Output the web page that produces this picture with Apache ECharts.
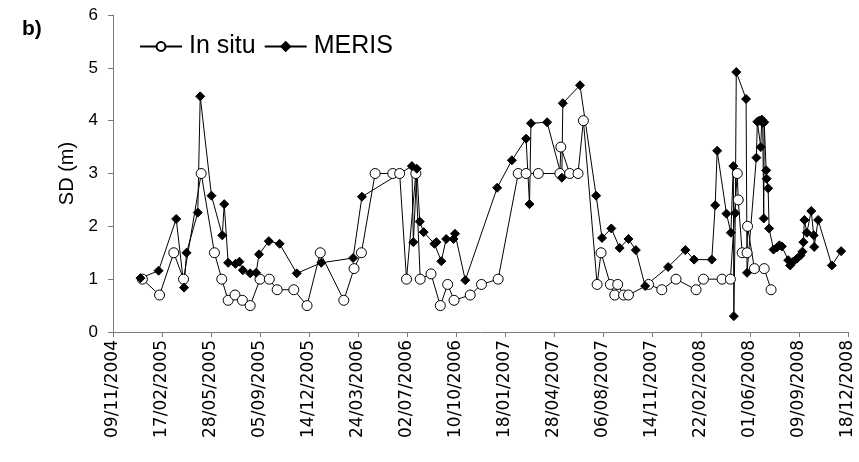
<!DOCTYPE html>
<html>
<head>
<meta charset="utf-8">
<script src="https://cdn.jsdelivr.net/npm/echarts@6/dist/echarts.min.js"></script>
<style>
  html, body { margin: 0; padding: 0; background: #fff; }
  #chart { width: 859px; height: 462px; }
</style>
</head>
<body>
<div id="chart"></div>
<script>
// In situ SD samples
var inSituDates = [
  '2005-01-08', '2005-02-12', '2005-03-13', '2005-04-02', '2005-05-08', '2005-06-04', '2005-06-19',
  '2005-07-02', '2005-07-16', '2005-07-31', '2005-08-16', '2005-09-05', '2005-09-24', '2005-10-10',
  '2005-11-13', '2005-12-10', '2006-01-06', '2006-02-23', '2006-03-16', '2006-03-31', '2006-04-28',
  '2006-06-03', '2006-06-17', '2006-07-01', '2006-07-20', '2006-07-29', '2006-08-20', '2006-09-08',
  '2006-09-23', '2006-10-06', '2006-11-08', '2006-12-01', '2007-01-04', '2007-02-14', '2007-03-02',
  '2007-03-27', '2007-05-10', '2007-05-12', '2007-05-30', '2007-06-16', '2007-06-27', '2007-07-25',
  '2007-08-02', '2007-08-21', '2007-08-30', '2007-09-05', '2007-09-17', '2007-09-27', '2007-11-07',
  '2007-12-04', '2008-01-02', '2008-02-12', '2008-02-27', '2008-04-05', '2008-04-22', '2008-05-06',
  '2008-05-08', '2008-05-16', '2008-05-26', '2008-05-27', '2008-06-10', '2008-06-30', '2008-07-14'
];
var inSituSD = [
  1.0, 0.7, 1.5, 1.0, 3.0, 1.5, 1.0,
  0.6, 0.7, 0.6, 0.5, 1.0, 1.0, 0.8,
  0.8, 0.5, 1.5, 0.6, 1.2, 1.5, 3.0,
  3.0, 3.0, 1.0, 3.0, 1.0, 1.1, 0.5,
  0.9, 0.6, 0.7, 0.9, 1.0, 3.0, 3.0,
  3.0, 3.0, 3.5, 3.0, 3.0, 4.0, 0.9,
  1.5, 0.9, 0.7, 0.9, 0.7, 0.7, 0.9,
  0.8, 1.0, 0.8, 1.0, 1.0, 1.0, 3.0,
  2.5, 1.5, 1.5, 2.0, 1.2, 1.2, 0.8
];

// MERIS derived SD
var merisDates = [
  '2005-01-04', '2005-02-10', '2005-03-18', '2005-04-03', '2005-04-08', '2005-05-01', '2005-05-06',
  '2005-05-29', '2005-06-20', '2005-06-24', '2005-07-02', '2005-07-17', '2005-07-25', '2005-08-01',
  '2005-08-16', '2005-08-28', '2005-09-03', '2005-09-23', '2005-10-15', '2005-11-19',
  '2006-01-08', '2006-03-14', '2006-04-01', '2006-07-12', '2006-07-15', '2006-07-22', '2006-07-28',
  '2006-08-05', '2006-08-27', '2006-08-31', '2006-09-10', '2006-09-20', '2006-10-05', '2006-10-08',
  '2006-10-29',
  '2007-01-02', '2007-02-01', '2007-03-02', '2007-03-09', '2007-03-12', '2007-04-14', '2007-05-14',
  '2007-05-16', '2007-06-20', '2007-07-23', '2007-08-04', '2007-08-23', '2007-09-09', '2007-09-27',
  '2007-10-12', '2007-10-31', '2007-12-17',
  '2008-01-21', '2008-02-08', '2008-03-15', '2008-03-22', '2008-03-26', '2008-04-14', '2008-04-23',
  '2008-04-28', '2008-04-29', '2008-05-02', '2008-05-04', '2008-05-24', '2008-05-26',
  '2008-06-14', '2008-06-16', '2008-06-20', '2008-06-23', '2008-06-25', '2008-06-27', '2008-06-29',
  '2008-06-30', '2008-07-04', '2008-07-05', '2008-07-08', '2008-07-10', '2008-07-19', '2008-07-26',
  '2008-07-31', '2008-08-05', '2008-08-18', '2008-08-22', '2008-08-28', '2008-09-05', '2008-09-12',
  '2008-09-16', '2008-09-18', '2008-09-20', '2008-09-25', '2008-10-04', '2008-10-09', '2008-10-10',
  '2008-10-18', '2008-11-15', '2008-12-04'
];
var merisSD = [
  1.02, 1.16, 2.14, 0.84, 1.50, 2.26, 4.46,
  2.58, 1.83, 2.42, 1.31, 1.29, 1.33, 1.17,
  1.11, 1.12, 1.47, 1.72, 1.67, 1.11,
  1.31, 1.40, 2.56, 3.14, 1.70, 3.09, 2.09,
  1.89, 1.67, 1.70, 1.34, 1.76, 1.76, 1.86,
  0.98,
  2.73, 3.25, 3.66, 2.42, 3.95, 3.97, 2.92,
  4.33, 4.67, 2.58, 1.78, 1.96, 1.59, 1.76,
  1.55, 0.87, 1.23,
  1.55, 1.37, 1.37, 2.40, 3.43, 2.24, 1.88,
  3.14, 0.30, 2.25, 4.92, 4.41, 1.12,
  3.30, 3.98, 4.00, 3.50, 4.02, 3.96, 2.15,
  3.97, 3.06, 2.90, 2.72, 1.96, 1.56, 1.60,
  1.64, 1.62, 1.36, 1.26, 1.33, 1.39, 1.45,
  1.52, 1.70, 2.12, 1.88, 2.29, 1.83, 1.61,
  2.12, 1.26, 1.53
];

// axis range as spreadsheet day numbers (09/11/2004 .. 18/12/2008, every 100 days)
var axisStart = '2004-11-09';
var axisEnd = '2008-12-18';
var tickDays = 100;

var DAY = 86400000;
var EPOCH = Date.UTC(1899, 11, 30);

function toSerial(s) {
  var p = s.split('-');
  return Math.round((Date.UTC(+p[0], +p[1] - 1, +p[2]) - EPOCH) / DAY);
}

function pad(n) {
  return n < 10 ? '0' + n : '' + n;
}

function serialLabel(v) {
  var d = new Date(EPOCH + Math.round(v) * DAY);
  return pad(d.getUTCDate()) + '/' + pad(d.getUTCMonth() + 1) + '/' + d.getUTCFullYear();
}

function pairs(dates, vals) {
  var out = [];
  for (var i = 0; i < dates.length; i++) {
    out.push([toSerial(dates[i]), vals[i]]);
  }
  return out;
}

var axisColor = '#7a7a7a';
var chart = echarts.init(document.getElementById('chart'), null, { renderer: 'canvas' });

var option = {
  backgroundColor: '#fff',
  animation: false,
  title: {
    text: 'b)',
    left: 17,
    top: 14,
    textStyle: { fontSize: 21, fontWeight: 'bold', color: '#000', fontFamily: 'Liberation Sans, Arial' }
  },
  legend: {
    data: ['In situ', 'MERIS'],
    left: 134,
    top: 29,
    itemWidth: 42,
    itemHeight: 11,
    itemGap: 8,
    textStyle: { fontSize: 25, color: '#000', fontFamily: 'Liberation Sans, Arial', padding: [0, 0, 0, 2] }
  },
  grid: {
    left: 113,
    right: 11,
    top: 15,
    bottom: 130
  },
  xAxis: {
    type: 'value',
    min: toSerial(axisStart),
    max: toSerial(axisEnd),
    interval: tickDays,
    axisLine: { lineStyle: { color: axisColor, width: 1 } },
    axisTick: { show: true, length: 5, lineStyle: { color: axisColor } },
    splitLine: { show: false },
    axisLabel: {
      rotate: 90,
      margin: 8,
      color: '#000',
      fontSize: 17,
      fontFamily: 'DejaVu Sans',
      showMinLabel: true,
      showMaxLabel: true,
      formatter: serialLabel
    }
  },
  yAxis: {
    type: 'value',
    min: 0,
    max: 6,
    interval: 1,
    name: 'SD (m)',
    nameLocation: 'middle',
    nameGap: 35,
    nameTextStyle: { fontSize: 20, color: '#000', fontFamily: 'Liberation Sans, Arial' },
    axisLine: { show: true, lineStyle: { color: axisColor, width: 1 } },
    axisTick: { show: true, length: 5, lineStyle: { color: axisColor } },
    splitLine: { show: false },
    axisLabel: { margin: 15, fontSize: 17, color: '#000', fontFamily: 'Liberation Sans, Arial' }
  },
  series: [
    {
      name: 'In situ',
      type: 'line',
      data: pairs(inSituDates, inSituSD),
      symbol: 'circle',
      symbolSize: 10,
      showAllSymbol: true,
      lineStyle: { color: '#000', width: 1 },
      itemStyle: { color: '#fff', borderColor: '#000', borderWidth: 1 }
    },
    {
      name: 'MERIS',
      type: 'line',
      data: pairs(merisDates, merisSD),
      symbol: 'diamond',
      symbolSize: 9,
      showAllSymbol: true,
      lineStyle: { color: '#000', width: 1 },
      itemStyle: { color: '#000', borderColor: '#000', borderWidth: 1 }
    }
  ]
};

chart.setOption(option);
</script>
</body>
</html>
